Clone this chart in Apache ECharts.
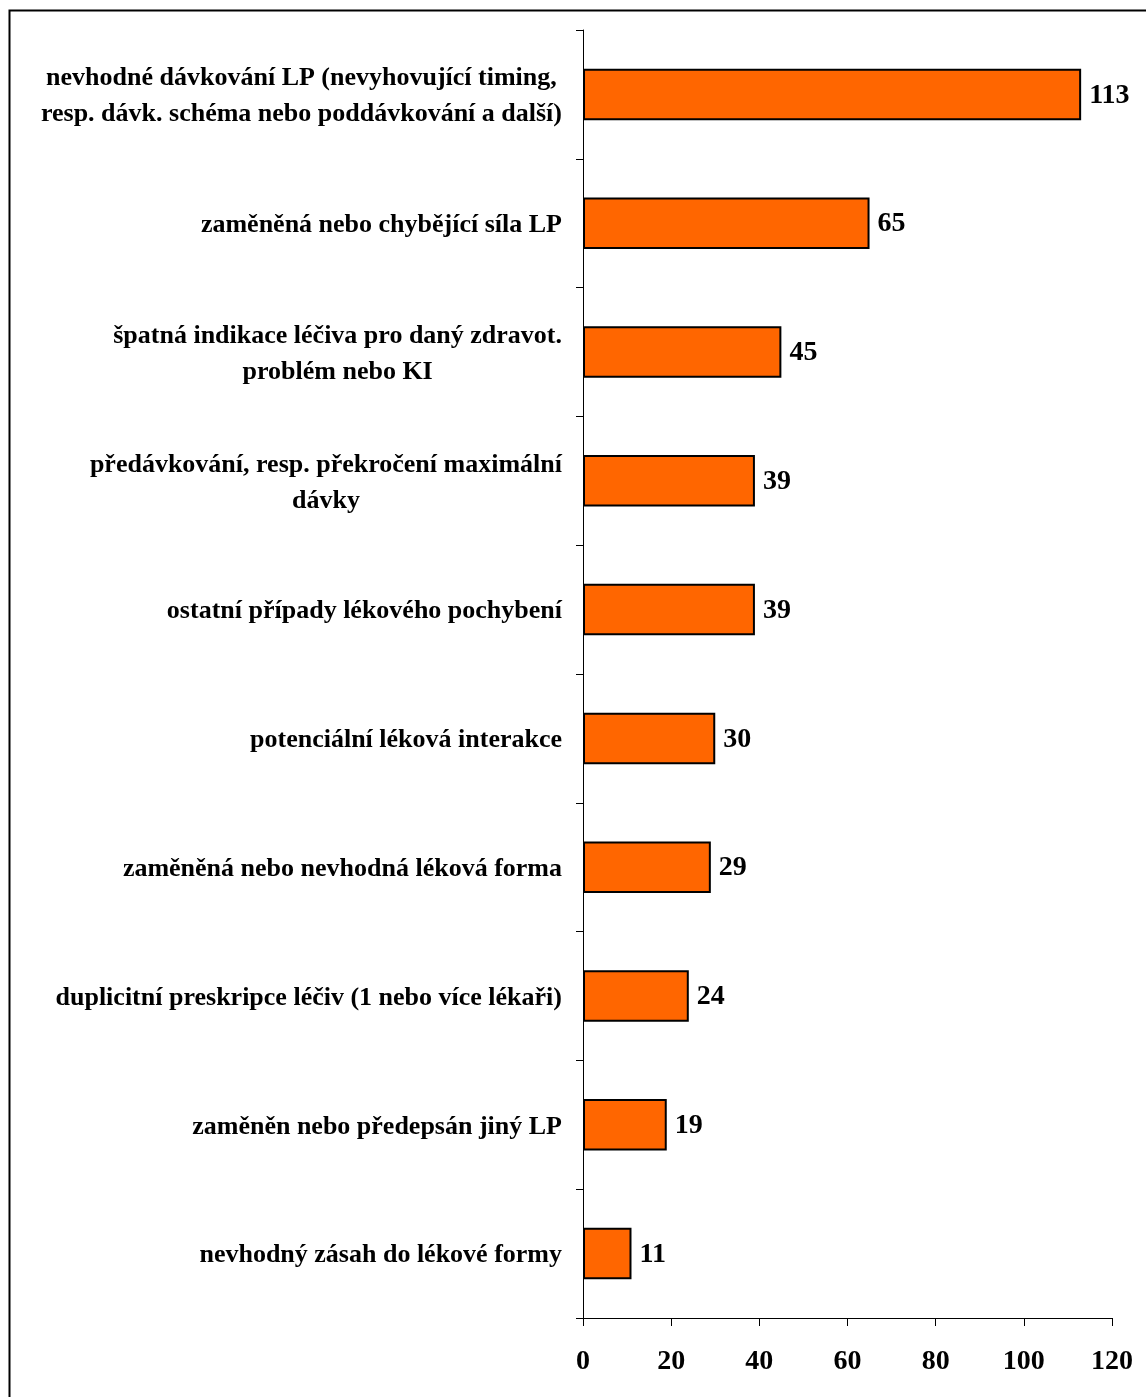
<!DOCTYPE html>
<html>
<head>
<meta charset="utf-8">
<script src="https://cdn.jsdelivr.net/npm/echarts@6/dist/echarts.min.js"></script>
<style>
html,body{margin:0;padding:0;background:#fff;}
#chart{width:1146px;height:1397px;}
</style>
</head>
<body>
<div id="chart"></div>
<script>
const categories = [
  "nevhodné dávkování LP (nevyhovující timing,\nresp. dávk. schéma nebo poddávkování a další)",
  "zaměněná nebo chybějící síla LP",
  "špatná indikace léčiva pro daný zdravot.\nproblém nebo KI",
  "předávkování, resp. překročení maximální\ndávky",
  "ostatní případy lékového pochybení",
  "potenciální léková interakce",
  "zaměněná nebo nevhodná léková forma",
  "duplicitní preskripce léčiv (1 nebo více lékaři)",
  "zaměněn nebo předepsán jiný LP",
  "nevhodný zásah do lékové formy"
];
const values = [113, 65, 45, 39, 39, 30, 29, 24, 19, 11];
const xTicks = { min: 0, max: 120, interval: 20 };

const FONT = '"Liberation Serif", "Times New Roman", serif';
const chart = echarts.init(document.getElementById('chart'), null, {renderer: 'canvas'});
chart.setOption({
  backgroundColor: '#fff',
  animation: false,
  graphic: [{
    type: 'rect', left: 7, top: 8,
    shape: {width: 1300, height: 1500},
    style: {fill: 'none', stroke: '#000', lineWidth: 2},
    silent: true, z: 100
  }],
  grid: {left: 583, top: 30, right: 34, bottom: 79, containLabel: false},
  xAxis: {
    type: 'value', min: xTicks.min, max: xTicks.max, interval: xTicks.interval,
    axisLine: {show: true, lineStyle: {color: '#000', width: 1}},
    axisTick: {show: true, length: 8, lineStyle: {color: '#000'}},
    splitLine: {show: false},
    axisLabel: {color: '#000', fontFamily: FONT, fontWeight: 'bold', fontSize: 28, margin: 30}
  },
  yAxis: {
    type: 'category', data: categories, inverse: true,
    axisLine: {show: true, lineStyle: {color: '#000', width: 1}},
    axisTick: {show: true, length: 7, alignWithLabel: false, lineStyle: {color: '#000'}},
    axisLabel: {
      margin: 21, align: 'right',
      formatter: v => v.split('\n').map(l => '{c|' + l + '}').join('\n'),
      rich: {c: {align: 'center', color: '#000', fontFamily: FONT, fontWeight: 'bold', fontSize: 26, lineHeight: 36, padding: [4, 0, 0, 0]}}
    }
  },
  series: [{
    type: 'bar', data: values, barCategoryGap: '60%',
    itemStyle: {color: '#FF6600', borderColor: '#000', borderWidth: 2},
    label: {show: true, position: 'right', distance: 8, offset: [0, 1], color: '#000', fontFamily: FONT, fontWeight: 'bold', fontSize: 28}
  }]
});
</script>
</body>
</html>
